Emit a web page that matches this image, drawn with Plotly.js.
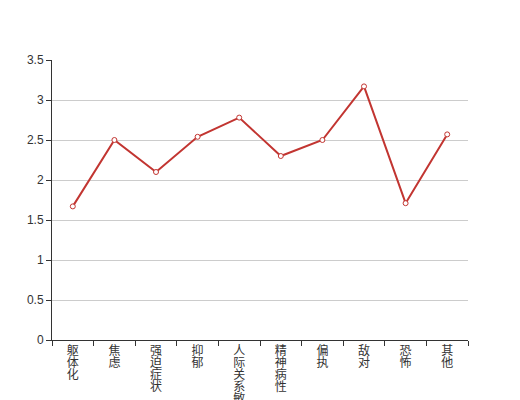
<!DOCTYPE html>
<html><head><meta charset="utf-8">
<script src="https://cdn.plot.ly/plotly-3.0.1.min.js"></script>
<style>html,body{margin:0;padding:0;background:#fff}#chart{width:520px;height:400px}</style>
</head><body><div id="chart"></div>
<script>
var categories = ["躯体化","焦虑","强迫症状","抑郁","人际关系敏感","精神病性","偏执","敌对","恐怖","其他"];
var values = [1.67, 2.5, 2.1, 2.54, 2.78, 2.3, 2.5, 3.17, 1.71, 2.57];
var yTicks = [0, 0.5, 1, 1.5, 2, 2.5, 3, 3.5];
var yTickLabels = ["0", "0.5", "1", "1.5", "2", "2.5", "3", "3.5"];

var vertLabels = categories.map(function(c){ return c.split("").join("<br>"); });

var trace = {
  x: categories,
  y: values,
  type: "scatter",
  mode: "lines+markers",
  line: {color: "#c23531", width: 2},
  marker: {symbol: "circle", size: 5, color: "#ffffff", line: {color: "#c23531", width: 1}},
  hoverinfo: "none"
};

var layout = {
  width: 520, height: 400,
  margin: {l: 52, r: 52, t: 60, b: 60},
  paper_bgcolor: "#fff", plot_bgcolor: "#fff",
  showlegend: false,
  font: {family: "'Liberation Sans', 'Noto Sans CJK SC', sans-serif", size: 12, color: "#333"},
  xaxis: {
    type: "category",
    range: [-0.5, categories.length - 0.5],
    tickmode: "array",
    tickvals: categories,
    ticktext: vertLabels,
    tickson: "boundaries",
    ticks: "outside", ticklen: 5, tickcolor: "#333", tickwidth: 1,
    showline: true, linecolor: "#333", linewidth: 1,
    showgrid: false, zeroline: false,
    tickangle: 0,
    tickfont: {size: 12, color: "#333"},
    automargin: false
  },
  yaxis: {
    range: [0, 3.5],
    tickmode: "array",
    tickvals: yTicks,
    ticktext: yTickLabels,
    ticks: "outside", ticklen: 5, tickcolor: "#333",
    showline: true, linecolor: "#333", linewidth: 1,
    showgrid: true, gridcolor: "#ccc", gridwidth: 1,
    zeroline: false,
    tickfont: {size: 12, color: "#333"},
    automargin: false
  }
};

Plotly.newPlot("chart", [trace], layout, {displayModeBar: false, staticPlot: true}).then(function(gd){
  var lines = gd.querySelectorAll(".xtick text tspan.line");
  lines.forEach(function(t){
    var dy = t.getAttribute("dy");
    if (dy && dy.indexOf("em") >= 0) {
      var n = parseFloat(dy) / 1.3;
      t.setAttribute("dy", (n * 1.0) + "em");
    }
  });
});
</script>
</body></html>
